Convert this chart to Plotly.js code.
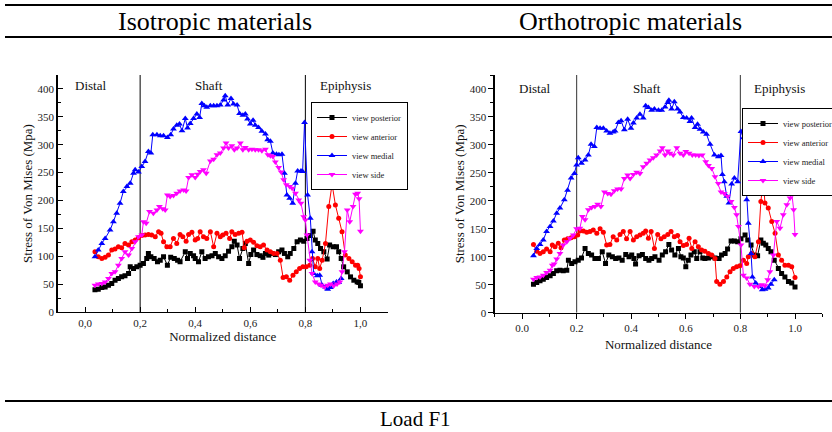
<!DOCTYPE html>
<html>
<head>
<meta charset="utf-8">
<script src="https://cdn.plot.ly/plotly-3.0.1.min.js"></script>
<style>html,body{margin:0;padding:0;background:#fff;}#chart{width:832px;height:432px;}</style>
</head>
<body>
<div id="chart"></div>
<script>
// ---------- Isotropic materials ----------
const isoPostX = [0.036,0.048,0.061,0.073,0.085,0.097,0.109,0.121,0.133,0.145,0.158,0.164,0.176,0.188,0.200,0.212,0.224,0.230,0.239,0.251,0.263,0.273,0.285,0.299,0.311,0.324,0.336,0.345,0.364,0.372,0.382,0.394,0.400,0.412,0.424,0.436,0.448,0.461,0.473,0.485,0.497,0.509,0.521,0.533,0.542,0.552,0.561,0.573,0.582,0.594,0.602,0.612,0.624,0.636,0.646,0.655,0.667,0.679,0.691,0.703,0.715,0.724,0.736,0.745,0.758,0.770,0.782,0.794,0.806,0.818,0.828,0.836,0.845,0.855,0.867,0.879,0.888,0.901,0.913,0.921,0.930,0.939,0.952,0.964,0.976,0.988,0.994,1.0];
const isoPostY = [40,41,44,45,48,51,57,60,63,65,69,81,78,81,84,87,96,105,99,96,90,93,99,84,98,96,93,90,108,96,105,101,96,90,108,96,99,101,105,99,96,101,109,117,127,120,96,114,123,87,103,111,103,101,98,105,102,105,103,108,111,105,99,105,114,126,129,127,132,137,145,129,123,114,108,95,120,117,117,108,96,81,72,63,57,54,53,47];

const isoAntX = [0.036,0.048,0.061,0.073,0.085,0.097,0.109,0.121,0.133,0.145,0.158,0.170,0.182,0.194,0.206,0.218,0.230,0.242,0.255,0.267,0.276,0.285,0.297,0.309,0.321,0.333,0.345,0.355,0.367,0.376,0.388,0.400,0.409,0.418,0.430,0.442,0.455,0.467,0.479,0.491,0.500,0.512,0.525,0.533,0.545,0.558,0.570,0.578,0.588,0.600,0.612,0.624,0.636,0.648,0.661,0.673,0.685,0.697,0.709,0.719,0.731,0.743,0.755,0.767,0.779,0.791,0.803,0.816,0.826,0.836,0.845,0.852,0.861,0.873,0.885,0.897,0.909,0.921,0.933,0.945,0.958,0.970,0.982,0.990,0.995,1.0];
const isoAntY = [108,99,96,98,102,111,113,117,115,123,120,126,129,133,137,138,139,138,135,144,141,126,117,117,132,123,139,135,127,139,143,129,132,144,135,132,144,117,141,135,138,141,132,144,139,141,143,115,127,129,125,119,117,120,111,108,105,105,93,62,63,57,66,72,78,81,81,84,96,81,96,78,93,123,189,229,192,168,144,102,96,90,84,84,78,63];

const isoMedX = [0.036,0.048,0.061,0.073,0.091,0.103,0.115,0.127,0.139,0.152,0.164,0.176,0.182,0.194,0.206,0.218,0.230,0.239,0.246,0.261,0.273,0.285,0.299,0.311,0.321,0.333,0.343,0.352,0.364,0.372,0.382,0.394,0.406,0.416,0.424,0.433,0.442,0.455,0.467,0.479,0.491,0.503,0.509,0.518,0.530,0.539,0.552,0.561,0.573,0.582,0.590,0.600,0.610,0.618,0.630,0.642,0.655,0.663,0.673,0.682,0.695,0.704,0.715,0.724,0.733,0.743,0.754,0.764,0.772,0.784,0.790,0.797,0.808,0.818,0.824,0.830,0.843,0.852,0.861,0.873,0.881,0.891,0.901,0.913,0.921,0.930];
const isoMedY = [99,111,123,132,147,162,177,195,216,225,231,249,255,251,261,270,288,285,318,318,316,316,313,318,328,335,337,325,347,330,338,347,355,349,374,370,367,370,370,370,371,380,388,371,383,373,371,356,353,355,346,337,344,335,331,324,319,309,306,285,283,282,283,249,210,204,195,231,253,253,252,340,210,168,108,69,65,66,48,45,41,44,51,54,53,60];

const isoSideX = [0.036,0.048,0.061,0.073,0.085,0.097,0.109,0.121,0.133,0.145,0.158,0.170,0.182,0.194,0.206,0.212,0.222,0.234,0.248,0.261,0.270,0.282,0.291,0.299,0.309,0.321,0.333,0.345,0.358,0.367,0.376,0.388,0.400,0.409,0.418,0.430,0.440,0.455,0.467,0.479,0.491,0.503,0.512,0.521,0.533,0.542,0.552,0.564,0.573,0.582,0.594,0.606,0.618,0.630,0.642,0.655,0.664,0.673,0.682,0.691,0.703,0.712,0.721,0.731,0.743,0.752,0.764,0.776,0.784,0.794,0.800,0.806,0.816,0.824,0.836,0.848,0.857,0.869,0.881,0.891,0.903,0.915,0.925,0.933,0.942,0.952,0.961,0.973,0.982,0.990,0.995,1.0];
const isoSideY = [48,50,51,54,60,69,72,84,96,108,102,114,126,135,138,162,159,180,177,183,189,185,183,210,207,209,213,217,219,217,241,246,241,247,252,255,249,271,274,282,285,294,303,294,298,291,294,303,291,295,291,292,291,291,289,292,282,280,279,269,259,251,237,228,225,222,213,201,195,171,165,138,93,69,54,50,48,45,48,50,47,50,54,72,108,183,162,189,211,213,203,145];

// ---------- Orthotropic materials ----------
const orthoPostX = [0.042,0.054,0.066,0.078,0.090,0.103,0.115,0.127,0.139,0.151,0.164,0.170,0.182,0.194,0.206,0.218,0.231,0.243,0.255,0.267,0.280,0.294,0.306,0.318,0.331,0.343,0.355,0.367,0.380,0.392,0.402,0.410,0.416,0.429,0.441,0.453,0.465,0.475,0.487,0.502,0.514,0.526,0.538,0.548,0.560,0.573,0.582,0.591,0.600,0.609,0.619,0.631,0.640,0.652,0.662,0.670,0.683,0.695,0.707,0.722,0.731,0.744,0.753,0.766,0.778,0.790,0.802,0.817,0.827,0.839,0.851,0.863,0.875,0.884,0.893,0.902,0.912,0.924,0.939,0.951,0.963,0.976,0.988,1.0];
const orthoPostY = [51,54,57,60,63,66,70,75,76,75,76,94,88,91,94,98,115,106,103,97,97,109,88,103,100,97,98,94,104,100,103,97,87,102,104,97,94,97,100,94,103,109,122,112,103,115,100,98,82,94,103,109,97,109,98,97,98,100,98,97,103,106,114,128,128,127,132,139,130,121,103,102,130,124,121,115,109,94,79,70,64,56,53,46];

const orthoAntX = [0.042,0.054,0.066,0.078,0.090,0.103,0.111,0.121,0.133,0.143,0.155,0.167,0.180,0.192,0.204,0.212,0.225,0.237,0.249,0.261,0.274,0.286,0.298,0.310,0.322,0.334,0.347,0.359,0.371,0.383,0.396,0.408,0.420,0.432,0.444,0.453,0.463,0.473,0.485,0.497,0.509,0.521,0.534,0.546,0.558,0.570,0.579,0.591,0.603,0.612,0.622,0.634,0.646,0.658,0.670,0.683,0.695,0.707,0.713,0.725,0.738,0.750,0.762,0.774,0.786,0.798,0.811,0.823,0.829,0.841,0.853,0.866,0.875,0.884,0.890,0.902,0.915,0.927,0.939,0.951,0.963,0.976,0.988,1.0];
const orthoAntY = [122,110,106,109,114,109,121,118,124,116,130,132,134,136,139,146,146,144,145,148,142,150,144,121,122,136,130,140,145,132,145,130,136,139,142,146,133,145,115,140,132,136,140,145,136,138,127,120,122,133,115,127,118,112,110,106,103,97,56,51,56,64,73,79,82,84,94,88,100,106,100,127,199,236,196,187,163,142,103,94,85,85,82,63];

const orthoMedX = [0.042,0.054,0.066,0.078,0.090,0.103,0.115,0.127,0.139,0.155,0.167,0.180,0.192,0.200,0.206,0.218,0.231,0.243,0.253,0.265,0.274,0.286,0.298,0.310,0.322,0.334,0.341,0.353,0.363,0.375,0.387,0.399,0.408,0.420,0.432,0.444,0.453,0.463,0.475,0.485,0.500,0.512,0.524,0.534,0.538,0.548,0.558,0.570,0.579,0.591,0.603,0.615,0.621,0.634,0.643,0.652,0.664,0.676,0.689,0.705,0.719,0.729,0.734,0.741,0.750,0.758,0.768,0.778,0.790,0.802,0.811,0.823,0.829,0.839,0.844,0.856,0.872,0.880,0.890,0.902,0.912,0.924];
const orthoMedY = [102,115,122,130,145,154,164,178,187,202,219,241,249,264,277,267,273,282,301,297,331,330,330,325,321,323,325,340,343,327,346,330,339,348,355,348,370,367,362,364,362,362,368,376,380,364,377,364,359,349,348,342,348,331,337,328,323,319,301,282,279,281,247,234,208,196,230,241,234,324,313,202,160,106,64,53,47,41,42,44,51,59];

const orthoSideX = [0.042,0.054,0.066,0.078,0.090,0.103,0.111,0.118,0.127,0.139,0.151,0.164,0.176,0.188,0.200,0.212,0.221,0.231,0.243,0.255,0.267,0.277,0.289,0.302,0.314,0.326,0.338,0.350,0.363,0.375,0.387,0.396,0.408,0.420,0.432,0.444,0.457,0.469,0.481,0.493,0.506,0.514,0.524,0.534,0.542,0.554,0.567,0.579,0.591,0.600,0.612,0.624,0.636,0.648,0.660,0.673,0.683,0.695,0.707,0.719,0.729,0.741,0.753,0.766,0.778,0.786,0.793,0.802,0.811,0.823,0.835,0.851,0.866,0.878,0.890,0.900,0.908,0.921,0.933,0.945,0.957,0.970,0.982,0.988,0.995,1.0];
const orthoSideY = [60,63,64,67,72,76,85,87,96,106,121,127,133,139,150,151,172,166,184,188,190,194,190,216,213,212,218,221,221,240,246,240,247,251,249,261,267,273,277,282,289,295,282,289,285,282,295,285,282,288,285,282,282,281,282,270,263,258,243,231,216,213,208,199,188,175,154,121,67,62,51,47,47,50,48,59,73,103,163,151,175,193,205,215,184,140];

// ---------- labels ----------
const seriesNames = ['view posterior','view anterior','view medial','view side'];
const seriesColors = ['#000000','#ff0000','#0000ff','#ff00ff'];
const seriesSymbols = ['square','circle','triangle-up','triangle-down'];
const tickVals = [0.0,0.2,0.4,0.6,0.8,1.0];
const isoTickText = ['0,0','0,2','0,4','0,6','0,8','1,0'];
const orthoTickText = ['0.0','0.2','0.4','0.6','0.8','1.0'];
const regionBounds = [0.2, 0.8];
const regionNames = ['Distal','Shaft','Epiphysis'];
const panelTitles = ['Isotropic materials','Orthotropic materials'];
const figureCaption = 'Load F1';

const SERIF = 'Liberation Serif, Times New Roman, serif';
const W = 832, H = 432;
const px = v => v / W;
const py = v => 1 - v / H;

const isoSets = [[isoPostX,isoPostY],[isoAntX,isoAntY],[isoMedX,isoMedY],[isoSideX,isoSideY]];
const orthoSets = [[orthoPostX,orthoPostY],[orthoAntX,orthoAntY],[orthoMedX,orthoMedY],[orthoSideX,orthoSideY]];

const traces = [];
isoSets.forEach((s, i) => traces.push({
  type:'scatter', mode:'lines+markers', x:s[0], y:s[1], name:seriesNames[i],
  xaxis:'x', yaxis:'y', legend:'legend',
  line:{color:seriesColors[i], width:1},
  marker:{color:seriesColors[i], symbol:seriesSymbols[i], size: i>=2 ? 6 : 5}
}));
orthoSets.forEach((s, i) => traces.push({
  type:'scatter', mode:'lines+markers', x:s[0], y:s[1], name:seriesNames[i],
  xaxis:'x2', yaxis:'y2', legend:'legend2',
  line:{color:seriesColors[i], width:1},
  marker:{color:seriesColors[i], symbol:seriesSymbols[i], size: i>=2 ? 6 : 5}
}));

function xAxis(domain, ticktext, anchor, tickdir, standoff){
  return {
    domain: domain, anchor: anchor, range:[-0.1, 1.1],
    showline:true, linecolor:'#000', linewidth:1.3, mirror:false,
    showgrid:false, zeroline:false,
    tickvals: tickVals, ticktext: ticktext,
    ticks:tickdir, ticklen:5, tickwidth:1, tickcolor:'#000',
    minor:{dtick:0.1, tick0:0, ticks:tickdir, ticklen:3, tickcolor:'#000'},
    tickfont:{family:SERIF, size:11, color:'#222'},
    automargin:false,
    title:{text:'Normalized distance', font:{family:SERIF, size:13, color:'#111'}, standoff:standoff}
  };
}
function yAxis(domain, anchor, tickdir){
  return {
    domain: domain, anchor: anchor, range:[0, 425],
    showline:true, linecolor:'#000', linewidth:1.3, mirror:false,
    showgrid:false, zeroline:false,
    dtick:50, tick0:0,
    ticks:tickdir, ticklen:5, tickwidth:1, tickcolor:'#000',
    minor:{dtick:25, ticks:tickdir, ticklen:3, tickcolor:'#000'},
    tickfont:{family:SERIF, size:11, color:'#222'},
    automargin:false,
    title:{text:'Stress of Von Mises (Mpa)', font:{family:SERIF, size:13, color:'#111'}, standoff:2}
  };
}

const shapes = [];
regionBounds.forEach(b => {
  shapes.push({type:'line', xref:'x', yref:'y', x0:b, x1:b, y0:0, y1:425, layer:'below', line:{color:'#000', width:1}});
  shapes.push({type:'line', xref:'x2', yref:'y2', x0:b, x1:b, y0:0, y1:425, layer:'below', line:{color:'#555', width:1.2}});
});
// frame rules of the figure
[5, 37, 401].forEach(yy => shapes.push({type:'line', xref:'paper', yref:'paper', x0:px(5), x1:1, y0:py(yy), y1:py(yy), line:{color:'#000', width:2.2}}));

const annotations = [];
const regionX = [0.02, 0.45, 0.945];
const regionX2 = [0.045, 0.457, 0.945];
regionNames.forEach((r, i) => {
  annotations.push({xref:'x', yref:'y', x:regionX[i], y:407, text:r, showarrow:false, font:{family:SERIF, size:13, color:'#111'}});
  annotations.push({xref:'x2', yref:'y2', x:regionX2[i], y:400, text:r, showarrow:false, font:{family:SERIF, size:13, color:'#111'}});
});
const titleStyle = {xref:'paper', yref:'paper', xanchor:'center', yanchor:'middle', showarrow:false};
annotations.push(Object.assign({x:px(215), y:py(21), text:panelTitles[0], font:{family:SERIF, size:26, color:'#000'}}, titleStyle));
annotations.push(Object.assign({x:px(630), y:py(21), text:panelTitles[1], font:{family:SERIF, size:26, color:'#000'}}, titleStyle));
annotations.push(Object.assign({x:px(415), y:py(419), text:figureCaption, font:{family:SERIF, size:21, color:'#000'}}, titleStyle));

const legendBase = {
  xanchor:'left', yanchor:'top', bgcolor:'#fff', bordercolor:'#000', borderwidth:1,
  font:{family:SERIF, size:8.5, color:'#222'}, itemwidth:30, tracegroupgap:0
};

const layout = {
  width:W, height:H,
  margin:{l:0, r:0, t:0, b:0, autoexpand:false},
  paper_bgcolor:'#fff', plot_bgcolor:'rgba(0,0,0,0)',
  showlegend:true,
  xaxis: xAxis([px(57.5), px(388)], isoTickText, 'y', 'inside', 4),
  yaxis: yAxis([py(312), py(75)], 'x', 'inside'),
  xaxis2: xAxis([px(494.7), px(822.3)], orthoTickText, 'y2', 'outside', 6),
  yaxis2: yAxis([py(312.7), py(75)], 'x2', 'outside'),
  legend: Object.assign({x:px(311), y:py(102)}, legendBase),
  legend2: Object.assign({x:px(742), y:py(108)}, legendBase),
  shapes: shapes,
  annotations: annotations
};

Plotly.newPlot('chart', traces, layout, {displayModeBar:false, staticPlot:true});
</script>
</body>
</html>
